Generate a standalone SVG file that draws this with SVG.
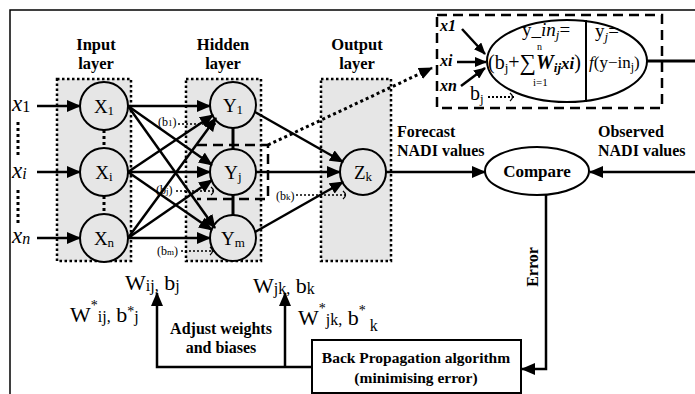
<svg xmlns="http://www.w3.org/2000/svg" width="695" height="394" viewBox="0 0 695 394">
<defs>
<marker id="ah" markerUnits="userSpaceOnUse" markerWidth="14" markerHeight="12" refX="13" refY="6" orient="auto"><path d="M0,0 L14,6 L0,12 z" fill="#000"/></marker>
<marker id="ahs" markerUnits="userSpaceOnUse" markerWidth="12" markerHeight="10" refX="11" refY="5" orient="auto"><path d="M0,0 L12,5 L0,10 z" fill="#000"/></marker>
<marker id="oa" markerUnits="userSpaceOnUse" markerWidth="8" markerHeight="10" refX="6" refY="5" orient="auto"><path d="M1,1 Q6,5 1,9" fill="none" stroke="#000" stroke-width="1.3"/></marker>
</defs>
<style>
.t{font-family:"Liberation Serif","Times New Roman",serif;fill:#000}
.b{font-weight:bold}
.layer{fill:#e6e6e6;stroke:#000;stroke-width:2.5;stroke-dasharray:2.5,2.5}
.node{fill:#e6e6e6;stroke:#000;stroke-width:2}
.c{stroke:#000;stroke-width:2.5;fill:none}
.dot{stroke:#000;stroke-width:1.5;stroke-dasharray:2,2;fill:none}
.dotb{stroke:#000;stroke-width:3;stroke-dasharray:3,3;fill:none}
.dash{stroke:#000;stroke-width:2.5;stroke-dasharray:10,6;fill:none}
</style>
<rect width="695" height="394" fill="#fff"/>
<path d="M10,394 V10 H695" fill="none" stroke="#000" stroke-width="1.5"/>

<g id="layers">
<rect class="layer" x="57" y="79" width="74" height="182"/>
<rect class="layer" x="186" y="79" width="75" height="182"/>
<rect class="layer" x="321" y="79" width="70" height="182"/>
<text class="t b" x="96" y="50" font-size="16.5" text-anchor="middle">Input</text>
<text class="t b" x="96" y="69" font-size="16.5" text-anchor="middle">layer</text>
<text class="t b" x="223" y="50" font-size="16.5" text-anchor="middle">Hidden</text>
<text class="t b" x="223" y="69" font-size="16.5" text-anchor="middle">layer</text>
<text class="t b" x="357" y="50" font-size="16.5" text-anchor="middle">Output</text>
<text class="t b" x="357" y="69" font-size="16.5" text-anchor="middle">layer</text>
</g>

<g id="inputs">
<text class="t" x="12" y="111" font-size="23" font-style="italic">x<tspan font-style="normal" font-size="16" dy="1">1</tspan></text>
<text class="t" x="12" y="178" font-size="23" font-style="italic">x<tspan font-size="16" dy="1">i</tspan></text>
<text class="t" x="12" y="243" font-size="23" font-style="italic">x<tspan font-size="16" dy="1">n</tspan></text>
<path class="dotb" d="M18,122 V156 M18,190 V226"/>
</g>

<g id="X1"><circle class="node" cx="104" cy="106" r="24"/><text class="t" x="104" y="113" font-size="19" text-anchor="middle">X<tspan font-size="13" dy="2">1</tspan></text></g>
<g id="Xi"><circle class="node" cx="104" cy="172" r="24"/><text class="t" x="104" y="179" font-size="19" text-anchor="middle">X<tspan font-size="13" dy="2">i</tspan></text></g>
<g id="Xn"><circle class="node" cx="104" cy="238" r="24"/><text class="t" x="104" y="245" font-size="19" text-anchor="middle">X<tspan font-size="13" dy="2">n</tspan></text></g>
<g id="Y1"><circle class="node" cx="233" cy="105" r="23"/><text class="t" x="233" y="112" font-size="19" text-anchor="middle">Y<tspan font-size="13" dy="2">1</tspan></text></g>
<g id="Yj"><circle class="node" cx="233" cy="172" r="23"/><text class="t" x="233" y="179" font-size="19" text-anchor="middle">Y<tspan font-size="13" dy="2">j</tspan></text></g>
<g id="Ym"><circle class="node" cx="233" cy="238" r="23"/><text class="t" x="233" y="245" font-size="19" text-anchor="middle">Y<tspan font-size="13" dy="2">m</tspan></text></g>
<g id="Zk"><circle class="node" cx="363" cy="172" r="23"/><text class="t" x="363" y="179" font-size="19" text-anchor="middle">Z<tspan font-size="13" dy="2">k</tspan></text></g>

<g id="compare"><ellipse cx="537" cy="171" rx="52" ry="24" fill="#fff" stroke="#000" stroke-width="2"/><text class="t b" x="537" y="177" font-size="17" text-anchor="middle">Compare</text></g>

<g id="backprop"><rect x="312" y="340" width="209" height="53" fill="#fff" stroke="#000" stroke-width="2"/>
<text class="t b" x="416" y="363" font-size="15.5" text-anchor="middle">Back Propagation algorithm</text>
<text class="t b" x="416" y="383" font-size="15.5" text-anchor="middle">(minimising error)</text></g>

<g id="neuron-detail">
<rect class="dash" x="437" y="15" width="225" height="93"/>
<ellipse cx="567" cy="61" rx="80" ry="41" fill="#fff" stroke="#000" stroke-width="2"/>
<path d="M586,20 V102" stroke="#000" stroke-width="2"/>
<text class="t" x="522" y="36" font-size="19">y<tspan>_</tspan><tspan font-style="italic">in</tspan><tspan font-style="italic" font-size="13" dy="3">j</tspan><tspan dy="-3">=</tspan></text>
<text class="t" x="537" y="50" font-size="10">n</text>
<text class="t" x="488" y="69" font-size="20">(b<tspan font-size="13" dy="3">j</tspan><tspan dy="-3">+</tspan><tspan font-size="23" dy="1">∑</tspan><tspan dy="-1" font-style="italic" font-weight="bold">W</tspan><tspan font-size="13" dy="3" font-style="italic" font-weight="bold">ij</tspan><tspan dy="-3" font-style="italic" font-weight="bold" font-size="17">xi</tspan>)</text>
<text class="t" x="533" y="86" font-size="11">i=1</text>
<text class="t" x="595" y="37" font-size="19">y<tspan font-style="italic" font-size="13" dy="4">j</tspan><tspan dy="-4">=</tspan></text>
<text class="t" x="589" y="68" font-size="17"><tspan font-style="italic">f</tspan>(y−in<tspan font-size="12" dy="3">j</tspan><tspan dy="-3">)</tspan></text>
<text class="t b" x="440" y="31" font-size="16" font-style="italic">x1</text>
<text class="t b" x="440" y="66" font-size="16" font-style="italic">xi</text>
<text class="t b" x="440" y="91" font-size="16" font-style="italic">xn</text>
<text class="t" x="470" y="100" font-size="20">b<tspan font-size="13" dy="3">j</tspan></text>
<path class="c" d="M462,29 L485,54" marker-end="url(#ahs)"/>
<path class="c" d="M457,62 L486,62" marker-end="url(#ahs)"/>
<path class="c" d="M461,86 L485,68" marker-end="url(#ahs)"/>
<path class="dot" style="stroke-width:2" d="M488,97 H515" marker-end="url(#oa)"/>
<path d="M647,61 H695" stroke="#000" stroke-width="3"/>
</g>

<g id="connectors">
<path class="c" d="M37,106 H80" marker-end="url(#ah)"/>
<path class="c" d="M37,172 H80" marker-end="url(#ah)"/>
<path class="c" d="M37,238 H80" marker-end="url(#ah)"/>
<path class="dotb" d="M104,130 V148 M104,196 V214"/>
<path d="M233,128 V149 M233,195 V215" stroke="#000" stroke-width="3"/>
<path class="c" d="M128,106 L210,106" marker-end="url(#ah)"/>
<path class="c" d="M128,106 L212,165" marker-end="url(#ah)"/>
<path class="c" d="M128,106 L215,228" marker-end="url(#ah)"/>
<path class="c" d="M128,172 L213,115" marker-end="url(#ah)"/>
<path class="c" d="M128,172 L210,172" marker-end="url(#ah)"/>
<path class="c" d="M128,172 L212,230" marker-end="url(#ah)"/>
<path class="c" d="M128,238 L216,118" marker-end="url(#ah)"/>
<path class="c" d="M128,238 L212,180" marker-end="url(#ah)"/>
<path class="c" d="M128,238 L210,238" marker-end="url(#ah)"/>
<path class="c" d="M255,112 L343,162" marker-end="url(#ah)"/>
<path class="c" d="M256,172 L340,172" marker-end="url(#ah)"/>
<path class="c" d="M255,232 L343,182" marker-end="url(#ah)"/>
<path class="dash" d="M197,145 H268 V199 H197"/>
<path class="dotb" d="M268,145 L432,68" marker-end="url(#ah)"/>
<text class="t" x="158" y="126" font-size="12">(b<tspan font-size="9">1</tspan>)</text>
<path class="dot" d="M178,124 H217" marker-end="url(#oa)"/>
<text class="t" x="156" y="194" font-size="12">(b<tspan font-size="9">j</tspan>)</text>
<path class="dot" d="M176,191 H216" marker-end="url(#oa)"/>
<text class="t" x="157" y="255" font-size="12">(b<tspan font-size="9">m</tspan>)</text>
<path class="dot" d="M181,251 H215" marker-end="url(#oa)"/>
<text class="t" x="276" y="200" font-size="12">(b<tspan font-size="9">k</tspan>)</text>
<path class="dot" d="M296,195 H348" marker-end="url(#oa)"/>
<path class="c" d="M386,172 H485" marker-end="url(#ah)"/>
<path class="c" d="M695,172 H590" marker-end="url(#ah)"/>
<path class="c" d="M546,194 V369 H522" marker-end="url(#ah)"/>
<path class="c" d="M312,367 H157 V293" marker-end="url(#ah)"/>
<path class="c" d="M285,367 V293" marker-end="url(#ah)"/>
</g>

<g id="labels">
<text class="t b" x="397" y="137" font-size="16">Forecast</text>
<text class="t b" x="397" y="156" font-size="16">NADI values</text>
<text class="t b" x="598" y="137" font-size="16">Observed</text>
<text class="t b" x="598" y="156" font-size="16">NADI values</text>
<text class="t b" x="538" y="267" font-size="16" text-anchor="middle" transform="rotate(-90 538 267)">Error</text>
<text class="t b" x="221" y="334" font-size="16" text-anchor="middle">Adjust weights</text>
<text class="t b" x="221" y="353" font-size="16" text-anchor="middle">and biases</text>
<text class="t" x="125" y="290" font-size="22">W<tspan font-size="16" dy="1">ij,</tspan><tspan dy="-1"> b</tspan><tspan font-size="16" dy="1">j</tspan></text>
<text class="t" x="253" y="293" font-size="22">W<tspan font-size="16" dy="1">jk,</tspan><tspan dy="-1"> b</tspan><tspan font-size="16" dy="1">k</tspan></text>
<text class="t" x="70" y="322" font-size="22">W<tspan font-size="14" dy="-12">*</tspan><tspan font-size="16" dy="12">ij,</tspan><tspan> b</tspan><tspan font-size="14" dy="-6">*</tspan><tspan font-size="16" dy="6">j</tspan></text>
<text class="t" x="298" y="325" font-size="22">W<tspan font-size="14" dy="-12">*</tspan><tspan font-size="16" dy="12">jk,</tspan><tspan> b</tspan><tspan font-size="14" dy="-10">*</tspan><tspan font-size="16" dy="16"> k</tspan></text>
</g>
</svg>
